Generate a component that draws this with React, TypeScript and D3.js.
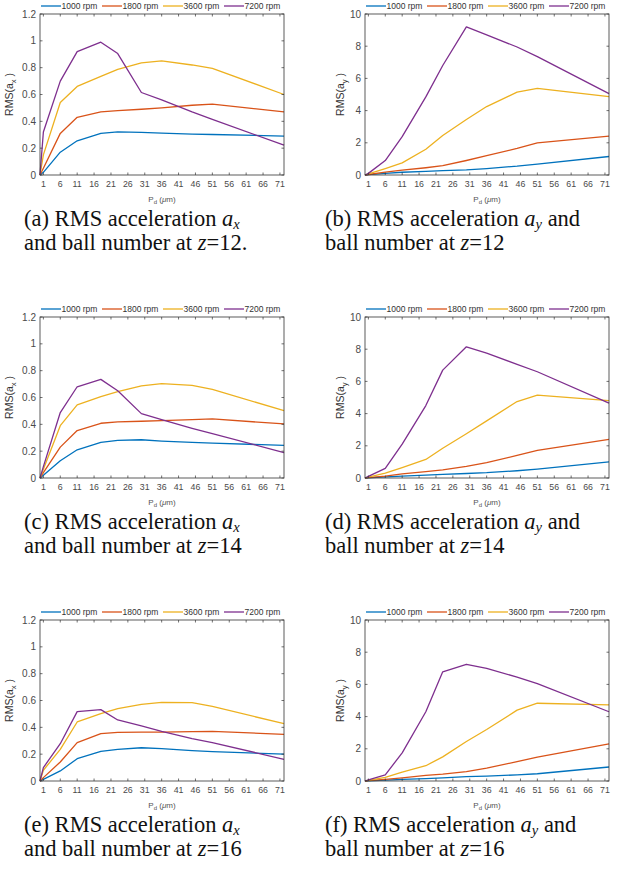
import React from "react";
import * as d3 from "d3";

// ball pitch diameter positions (x) shared by every curve
const pd = [0, 1, 6, 11, 18, 23, 30, 36, 45, 51, 72.2];
const xTicks = [1, 6, 11, 16, 21, 26, 31, 36, 41, 46, 51, 56, 61, 66, 71];
const axTicks = [0, 0.2, 0.4, 0.6, 0.8, 1, 1.2];
const ayTicks = [0, 2, 4, 6, 8, 10];
const rpmLabels = ["1000 rpm", "1800 rpm", "3600 rpm", "7200 rpm"];
const colors = ["#0072BD", "#D95319", "#EDB120", "#7E2F8E"];

// z = 12
const ax12_1000 = [0, 0.02, 0.17, 0.255, 0.31, 0.322, 0.318, 0.312, 0.305, 0.302, 0.29];
const ax12_1800 = [0, 0.05, 0.31, 0.43, 0.47, 0.48, 0.49, 0.5, 0.52, 0.528, 0.47];
const ax12_3600 = [0, 0.15, 0.54, 0.66, 0.735, 0.787, 0.835, 0.85, 0.82, 0.795, 0.6];
const ax12_7200 = [0, 0.32, 0.7, 0.92, 0.99, 0.905, 0.615, 0.56, 0.47, 0.415, 0.222];
const ay12_1000 = [0, 0.02, 0.1, 0.17, 0.22, 0.27, 0.32, 0.4, 0.55, 0.68, 1.15];
const ay12_1800 = [0, 0.03, 0.18, 0.3, 0.45, 0.58, 0.9, 1.2, 1.65, 2.0, 2.42];
const ay12_3600 = [0, 0.07, 0.4, 0.75, 1.6, 2.45, 3.45, 4.25, 5.15, 5.38, 4.87];
const ay12_7200 = [0, 0.1, 0.9, 2.38, 4.85, 6.8, 9.2, 8.7, 7.95, 7.35, 5.05];

// z = 14
const ax14_1000 = [0, 0.02, 0.129, 0.21, 0.265, 0.28, 0.285, 0.275, 0.265, 0.26, 0.243];
const ax14_1800 = [0, 0.04, 0.23, 0.354, 0.408, 0.418, 0.423, 0.428, 0.435, 0.44, 0.403];
const ax14_3600 = [0, 0.065, 0.39, 0.545, 0.606, 0.644, 0.686, 0.703, 0.69, 0.66, 0.502];
const ax14_7200 = [0, 0.085, 0.488, 0.68, 0.735, 0.65, 0.48, 0.435, 0.37, 0.33, 0.19];
const ay14_1000 = [0, 0.01, 0.07, 0.12, 0.18, 0.22, 0.28, 0.33, 0.45, 0.55, 1.0];
const ay14_1800 = [0, 0.02, 0.12, 0.25, 0.4, 0.5, 0.72, 0.95, 1.4, 1.72, 2.4];
const ay14_3600 = [0, 0.05, 0.3, 0.65, 1.15, 1.85, 2.75, 3.55, 4.75, 5.15, 4.8];
const ay14_7200 = [0, 0.1, 0.6, 2.1, 4.5, 6.7, 8.15, 7.75, 7.06, 6.6, 4.65];

// z = 16
const ax16_1000 = [0, 0.012, 0.075, 0.166, 0.221, 0.236, 0.248, 0.241, 0.226, 0.219, 0.2];
const ax16_1800 = [0, 0.025, 0.142, 0.286, 0.353, 0.363, 0.365, 0.365, 0.368, 0.37, 0.348];
const ax16_3600 = [0, 0.08, 0.236, 0.44, 0.502, 0.54, 0.571, 0.586, 0.584, 0.556, 0.427];
const ax16_7200 = [0, 0.1, 0.278, 0.517, 0.532, 0.455, 0.41, 0.37, 0.316, 0.286, 0.162];
const ay16_1000 = [0, 0.01, 0.05, 0.1, 0.15, 0.2, 0.27, 0.3, 0.38, 0.45, 0.87];
const ay16_1800 = [0, 0.02, 0.1, 0.2, 0.35, 0.43, 0.58, 0.8, 1.2, 1.48, 2.3];
const ay16_3600 = [0, 0.04, 0.22, 0.55, 0.95, 1.5, 2.45, 3.2, 4.4, 4.83, 4.73];
const ay16_7200 = [0, 0.07, 0.38, 1.75, 4.3, 6.78, 7.25, 7.0, 6.45, 6.05, 4.3];

const panels = [
  { left: 40, top: 14, axis: "x", yMax: 1.2, yTicks: axTicks, series: [ax12_1000, ax12_1800, ax12_3600, ax12_7200], tag: "a", z: "12." },
  { left: 365, top: 14, axis: "y", yMax: 10, yTicks: ayTicks, series: [ay12_1000, ay12_1800, ay12_3600, ay12_7200], tag: "b", z: "12" },
  { left: 40, top: 317, axis: "x", yMax: 1.2, yTicks: axTicks, series: [ax14_1000, ax14_1800, ax14_3600, ax14_7200], tag: "c", z: "14" },
  { left: 365, top: 317, axis: "y", yMax: 10, yTicks: ayTicks, series: [ay14_1000, ay14_1800, ay14_3600, ay14_7200], tag: "d", z: "14" },
  { left: 40, top: 620, axis: "x", yMax: 1.2, yTicks: axTicks, series: [ax16_1000, ax16_1800, ax16_3600, ax16_7200], tag: "e", z: "16" },
  { left: 365, top: 620, axis: "y", yMax: 10, yTicks: ayTicks, series: [ay16_1000, ay16_1800, ay16_3600, ay16_7200], tag: "f", z: "16" },
];

const W = 244;
const H = 161;
const axisColor = "#333";
const tickText = "#4a4a4a";
const sans = "'Liberation Sans', Arial, sans-serif";
const serif = "'Liberation Serif', 'Times New Roman', serif";

function Panel({ p }: { p: any }) {
  const x = d3.scaleLinear().domain([0, 72.2]).range([0, W]);
  const y = d3.scaleLinear().domain([0, p.yMax]).range([H, 0]);
  const line = d3.line<number>().x((_, i) => x(pd[i])).y((d) => y(d));
  const fmt = (v: number) => String(+v.toFixed(1));
  const slot = W / 4;
  const capX = p.left < 200 ? -16 : -40;

  return (
    <g transform={`translate(${p.left},${p.top})`}>
      {/* legend */}
      {rpmLabels.map((lab, i) => (
        <g key={lab} transform={`translate(${i * slot + 1},-8)`}>
          <line x1={0} x2={20} y1={0} y2={0} stroke={colors[i]} strokeWidth={1.3} />
          <text x={20.5} y={3} fontSize={8.5} fontFamily={sans} fill="#333">{lab}</text>
        </g>
      ))}
      <rect x={0} y={0} width={W} height={H} fill="white" />
      {p.series.map((s: number[], i: number) => (
        <path key={i} d={line(s) || ""} fill="none" stroke={colors[i]} strokeWidth={1.3} strokeLinejoin="round" />
      ))}
      <rect x={0} y={0} width={W} height={H} fill="none" stroke={axisColor} strokeWidth={0.8} />
      {xTicks.map((t) => (
        <g key={t}>
          <line x1={x(t)} x2={x(t)} y1={H} y2={H - 2.5} stroke={axisColor} strokeWidth={0.7} />
          <line x1={x(t)} x2={x(t)} y1={0} y2={2.5} stroke={axisColor} strokeWidth={0.7} />
          <text x={x(t)} y={H + 11.5} fontSize={8.8} fontFamily={sans} fill={tickText} textAnchor="middle">{t}</text>
        </g>
      ))}
      {p.yTicks.map((t: number) => (
        <g key={t}>
          <line x1={0} x2={2.5} y1={y(t)} y2={y(t)} stroke={axisColor} strokeWidth={0.7} />
          <line x1={W} x2={W - 2.5} y1={y(t)} y2={y(t)} stroke={axisColor} strokeWidth={0.7} />
          <text x={-4} y={y(t) + 3.5} fontSize={10} fontFamily={sans} fill={tickText} textAnchor="end">{fmt(t)}</text>
        </g>
      ))}
      <text transform={`translate(${p.axis === "x" ? -27 : -21},${H / 2}) rotate(-90)`} fontSize={10.5} fontFamily={sans} fill="#333" textAnchor="middle">
        RMS(a<tspan fontSize={7.5} dy={3}>{p.axis}</tspan><tspan dy={-3}> )</tspan>
      </text>
      <text x={W / 2} y={H + 27} fontSize={8} fontFamily={sans} fill="#555" textAnchor="middle">
        P<tspan fontSize={6} dy={2}>d</tspan><tspan dy={-2}> (</tspan><tspan fontStyle="italic">μ</tspan>m)
      </text>
      {/* caption */}
      <text x={capX} y={H + 51} fontSize={22.5} fontFamily={serif} fill="#111">
        ({p.tag}) RMS acceleration <tspan fontStyle="italic">a</tspan>
        <tspan fontStyle="italic" fontSize={14.5} dy={2.5}>{p.axis}</tspan>
        <tspan dy={-2.5}>{p.axis === "y" ? " and" : ""}</tspan>
      </text>
      <text x={capX} y={H + 75} fontSize={22.5} fontFamily={serif} fill="#111">
        {p.axis === "x" ? "and ball number at " : "ball number at "}
        <tspan fontStyle="italic">z</tspan>={p.z}
      </text>
    </g>
  );
}

export default function App() {
  return (
    <svg width={618} height={882} style={{ position: "absolute", left: 0, top: 0, background: "white" }}>
      <rect width={618} height={882} fill="white" />
      {panels.map((p) => (
        <Panel key={p.tag} p={p} />
      ))}
    </svg>
  );
}
